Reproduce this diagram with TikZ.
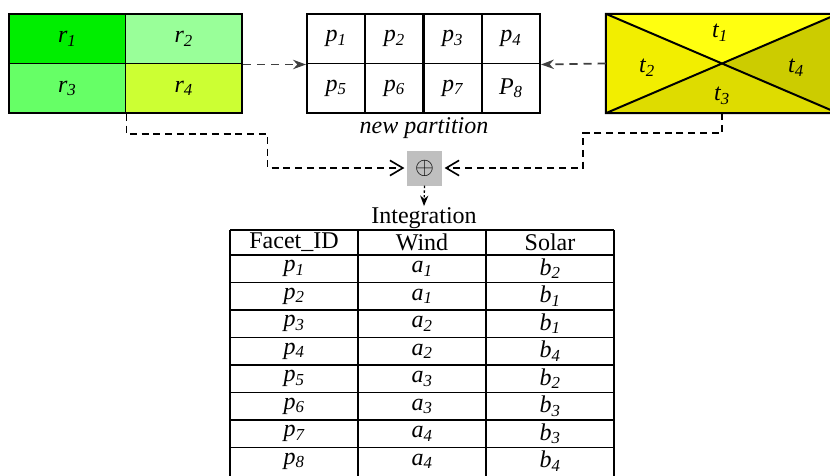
\documentclass[tikz,border=0pt]{standalone}
\usepackage{fontspec}
\setmainfont{Liberation Serif}
\usetikzlibrary{arrows.meta}

\newcommand{\cellsym}[2]{\textit{#1\textsubscript{#2}}}

\tikzset{
  rcell/.style={draw, line width=1.7pt, minimum width=3.495cm, minimum height=1.485cm, inner sep=0pt},
  pcell/.style={draw, line width=1.7pt, minimum width=1.7475cm, minimum height=1.485cm, inner sep=0pt},
  boxline/.style={line width=1.7pt},
  topflow/.style={draw=black!75, line width=1.5pt, dash pattern=on 7pt off 5pt, -{Stealth[length=11pt,width=8pt]}},
  lowflow/.style={line width=1.3pt, dash pattern=on 6pt off 4pt, -{Straight Barb[length=11pt,width=13pt,line width=1.4pt]}, shorten >=2pt},
  downflow/.style={line width=1.1pt, dash pattern=on 2pt off 2pt, -{Stealth[length=9pt,width=7pt]}},
  tabline/.style={line width=1.7pt}
}

\begin{document}
\begin{tikzpicture}[x=0.03cm, y=-0.03cm, font=\fontsize{20.5}{24}\selectfont]
\useasboundingbox (0,0) rectangle (830,476);

% regions of the first layer
\node[rcell, fill={rgb,255:red,0;green,238;blue,0}]    (r1) at (67.25,38.75)  {\cellsym{r}{1}};
\node[rcell, fill={rgb,255:red,153;green,255;blue,153}] (r2) at (183.75,38.75) {\cellsym{r}{2}};
\node[rcell, fill={rgb,255:red,102;green,255;blue,102}] (r3) at (67.25,88.25)  {\cellsym{r}{3}};
\node[rcell, fill={rgb,255:red,204;green,255;blue,51}]  (r4) at (183.75,88.25) {\cellsym{r}{4}};

% new partition
\node[pcell] (p1) at (336.1,38.75) {\cellsym{p}{1}};
\node[pcell] (p2) at (394.4,38.75) {\cellsym{p}{2}};
\node[pcell] (p3) at (452.6,38.75) {\cellsym{p}{3}};
\node[pcell] (p4) at (510.9,38.75) {\cellsym{p}{4}};
\node[pcell] (p5) at (336.1,88.25) {\cellsym{p}{5}};
\node[pcell] (p6) at (394.4,88.25) {\cellsym{p}{6}};
\node[pcell] (p7) at (452.6,88.25) {\cellsym{p}{7}};
\node[pcell] (p8) at (510.9,88.25) {\cellsym{P}{8}};
\node (newpart) at (424,128) {\textit{new partition}};

% regions of the second layer
\node[minimum width=6.96cm, minimum height=2.97cm, inner sep=0pt] (tbox) at (722,63.5) {};
\fill[fill={rgb,255:red,255;green,255;blue,16}] (tbox.north west) -- (tbox.center) -- (tbox.north east) -- cycle;
\fill[fill={rgb,255:red,242;green,238;blue,0}] (tbox.north west) -- (tbox.center) -- (tbox.south west) -- cycle;
\fill[fill={rgb,255:red,222;green,220;blue,0}] (tbox.south west) -- (tbox.center) -- (tbox.south east) -- cycle;
\fill[fill={rgb,255:red,204;green,204;blue,0}] (tbox.north east) -- (tbox.center) -- (tbox.south east) -- cycle;
\draw[boxline] (tbox.north west) rectangle (tbox.south east)
  (tbox.north west) -- (tbox.south east) (tbox.south west) -- (tbox.north east);
\node (t1) at (720,33) {\cellsym{t}{1}};
\node (t2) at (647,68) {\cellsym{t}{2}};
\node (t3) at (722,96) {\cellsym{t}{3}};
\node (t4) at (796,68) {\cellsym{t}{4}};

% overlay
\draw[topflow] (r2.south east) -- (p1.south west);
\draw[topflow] (tbox.west) -- (p4.south east);

% integration
\node[fill=gray!50, minimum size=1.05cm, inner sep=0pt] (plus) at (424.5,168) {$\oplus$};
\draw[lowflow] (r3.south east) -- ++(0,20) -- ++(141,0) |- (plus.west);
\draw[lowflow] (tbox.south) -- ++(0,20) -- ++(-139,0) |- (plus.east);
\node[inner sep=1pt] (integ) at (424,218) {Integration};
\draw[downflow] (plus.south) -- (integ.north);

% table
\foreach \yy in {230,255,282.5,310,337.5,365,392.5,420,447.5}
  \draw[tabline] (230,\yy) -- (614,\yy);
\foreach \xx in {230,358,486,614}
  \draw[tabline] (\xx,230) -- (\xx,480);
\node (hf) at (294,242.5) {Facet\_ID};
\node (hw) at (422,242.5) {Wind};
\node (hs) at (550,242.5) {Solar};
\foreach \pn/\an/\bn [count=\k] in {1/1/2, 2/1/1, 3/2/1, 4/2/4, 5/3/2, 6/3/3, 7/4/3, 8/4/4}{
  \node (f\k) at (294,241.25+27.5*\k) {\cellsym{p}{\pn}};
  \node (w\k) at (422,241.25+27.5*\k) {\cellsym{a}{\an}};
  \node (s\k) at (550,241.25+27.5*\k) {\cellsym{b}{\bn}};
}
\end{tikzpicture}
\end{document}
